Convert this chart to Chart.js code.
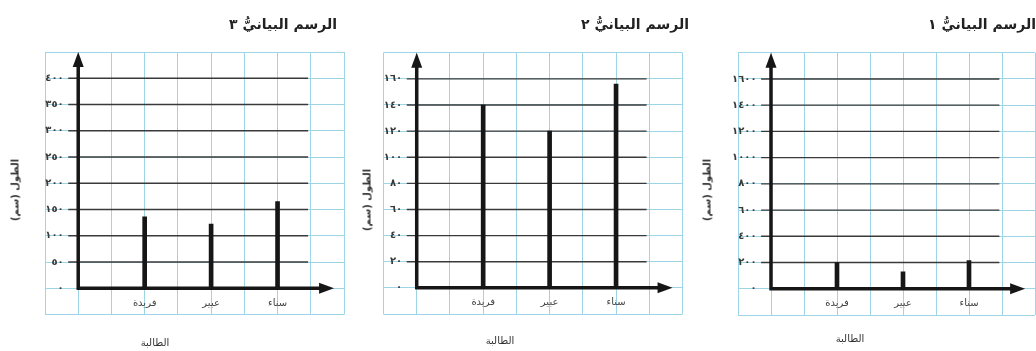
<!DOCTYPE html>
<html lang="ar">
<head>
<meta charset="utf-8">
<title>الرسوم البيانية</title>
<script src="https://cdn.jsdelivr.net/npm/chart.js@4.4.1/dist/chart.umd.min.js"></script>
<style>
  html, body { margin: 0; padding: 0; background: #fff; }
  body { width: 1036px; height: 351px; position: relative; overflow: hidden; font-family: "DejaVu Sans", sans-serif; }
  .panel { position: absolute; top: 0; height: 351px; }
  .txt { position: absolute; white-space: nowrap; color: #222; direction: rtl; transform: translate(-50%, -50%); }
  .title { font-size: 14px; font-weight: bold; }
  .xtitle { font-size: 10px; color: #333; }
  .ytitle { font-size: 10px; font-weight: bold; color: #333; transform: translate(-50%, -50%) rotate(-90deg); }
</style>
</head>
<body>
<div class="panel" style="left:0;width:345px"><canvas id="graph3"></canvas></div>
<div class="panel" style="left:345px;width:345px"><canvas id="graph2"></canvas></div>
<div class="panel" style="left:690px;width:346px"><canvas id="graph1"></canvas></div>

<div class="txt title" style="left:283px;top:24px">الرسم البيانيُّ ٣</div>
<div class="txt title" style="left:635px;top:24px">الرسم البيانيُّ ٢</div>
<div class="txt title" style="left:982px;top:24px">الرسم البيانيُّ ١</div>

<div class="txt xtitle" style="left:155px;top:342px">الطالبة</div>
<div class="txt xtitle" style="left:500px;top:340px">الطالبة</div>
<div class="txt xtitle" style="left:850px;top:338px">الطالبة</div>

<div class="txt ytitle" style="left:15px;top:190px">الطول (سم)</div>
<div class="txt ytitle" style="left:367px;top:200px">الطول (سم)</div>
<div class="txt ytitle" style="left:707px;top:190px">الطول (سم)</div>

<script>
// students on the x axis
const students = ['فريدة', 'عبير', 'سناء'];

// heights as drawn in each graph
const heights1 = [200, 130, 215];
const heights2 = [140, 120, 156];
const heights3 = [136, 122, 165];

// y tick labels and their step
const ticks1 = ['٠', '٢٠٠', '٤٠٠', '٦٠٠', '٨٠٠', '١٠٠٠', '١٢٠٠', '١٤٠٠', '١٦٠٠'];
const ticks2 = ['٠', '٢٠', '٤٠', '٦٠', '٨٠', '١٠٠', '١٢٠', '١٤٠', '١٦٠'];
const ticks3 = ['٠', '٥٠', '١٠٠', '١٥٠', '٢٠٠', '٢٥٠', '٣٠٠', '٣٥٠', '٤٠٠'];
const step1 = 200;
const step2 = 20;
const step3 = 50;

const gridBlue = '#9dd5e6';
const ink = '#161616';
const font = 'DejaVu Sans';

// dark ruled lines, the two thick axes and their arrow heads
const graphPaper = {
  id: 'graphPaper',
  beforeDatasetsDraw(chart, args, opts) {
    const { ctx, scales: { x, y } } = chart;
    const x0 = x.getPixelForValue(opts.lineStart);
    const x1 = x.getPixelForValue(opts.lineEnd);
    ctx.save();
    ctx.strokeStyle = '#3a3a3a';
    ctx.lineWidth = 1.4;
    y.ticks.forEach(t => {
      if (t.value <= 0 || t.label === '') return;
      const py = y.getPixelForValue(t.value);
      ctx.beginPath();
      ctx.moveTo(x0, py);
      ctx.lineTo(x1, py);
      ctx.stroke();
    });
    ctx.restore();
  },
  afterDatasetsDraw(chart, args, opts) {
    const { ctx, chartArea, scales: { x, y } } = chart;
    const ox = x.getPixelForValue(0);
    const oy = y.getPixelForValue(0);
    const tipX = x.getPixelForValue(opts.arrowEnd);
    const tipY = chartArea.top;
    ctx.save();
    ctx.strokeStyle = ink;
    ctx.fillStyle = ink;
    ctx.lineWidth = 3.5;
    ctx.beginPath();
    ctx.moveTo(ox, oy + 1.5);
    ctx.lineTo(ox, tipY + 12);
    ctx.moveTo(ox - 1.5, oy);
    ctx.lineTo(tipX - 12, oy);
    ctx.stroke();
    ctx.beginPath();
    ctx.moveTo(ox, tipY);
    ctx.lineTo(ox - 5.5, tipY + 15);
    ctx.lineTo(ox + 5.5, tipY + 15);
    ctx.closePath();
    ctx.fill();
    ctx.beginPath();
    ctx.moveTo(tipX, oy);
    ctx.lineTo(tipX - 15, oy - 5.5);
    ctx.lineTo(tipX - 15, oy + 5.5);
    ctx.closePath();
    ctx.fill();
    ctx.restore();
  }
};

function makeGraph(id, values, tickLabels, step, pad) {
  new Chart(document.getElementById(id), {
    type: 'bar',
    data: {
      datasets: [{
        data: students.map((s, i) => ({ x: i + 1, y: values[i] })),
        backgroundColor: ink,
        barThickness: 4
      }]
    },
    options: {
      responsive: true,
      maintainAspectRatio: false,
      animation: false,
      layout: { padding: pad },
      plugins: {
        legend: { display: false },
        tooltip: { enabled: false },
        graphPaper: { lineStart: -0.15, lineEnd: 3.46, arrowEnd: 3.85 }
      },
      scales: {
        x: {
          type: 'linear',
          // labels sit a little under the zero line
          position: { y: -step * 0.34 },
          min: -0.5,
          max: 4,
          offset: false,
          grid: { color: gridBlue, lineWidth: 1, offset: false, drawTicks: false },
          border: { display: false },
          ticks: {
            stepSize: 0.5,
            autoSkip: false,
            maxRotation: 0,
            padding: 0,
            color: '#444',
            font: { family: font, size: 10 },
            callback: v => (Number.isInteger(v) && v >= 1 && v <= students.length) ? students[v - 1] : ''
          }
        },
        y: {
          type: 'linear',
          // labels sit left of the vertical axis
          position: { x: -0.22 },
          min: -step,
          max: step * tickLabels.length,
          grid: { color: gridBlue, lineWidth: 1, drawTicks: false },
          border: { display: false },
          ticks: {
            stepSize: step,
            autoSkip: false,
            padding: 0,
            color: '#3a3a3a',
            font: { family: font, size: 10, weight: 'bold' },
            callback: v => {
              const k = Math.round(v / step);
              return (k >= 0 && k < tickLabels.length) ? tickLabels[k] : '';
            }
          }
        }
      }
    },
    plugins: [graphPaper]
  });
}

makeGraph('graph3', heights3, ticks3, step3, { left: 45, right: 1, top: 52, bottom: 36.5 });
makeGraph('graph2', heights2, ticks2, step2, { left: 38.5, right: 7.5, top: 52.7, bottom: 37 });
makeGraph('graph1', heights1, ticks1, step1, { left: 48, right: 1, top: 52.7, bottom: 36 });
</script>
</body>
</html>
